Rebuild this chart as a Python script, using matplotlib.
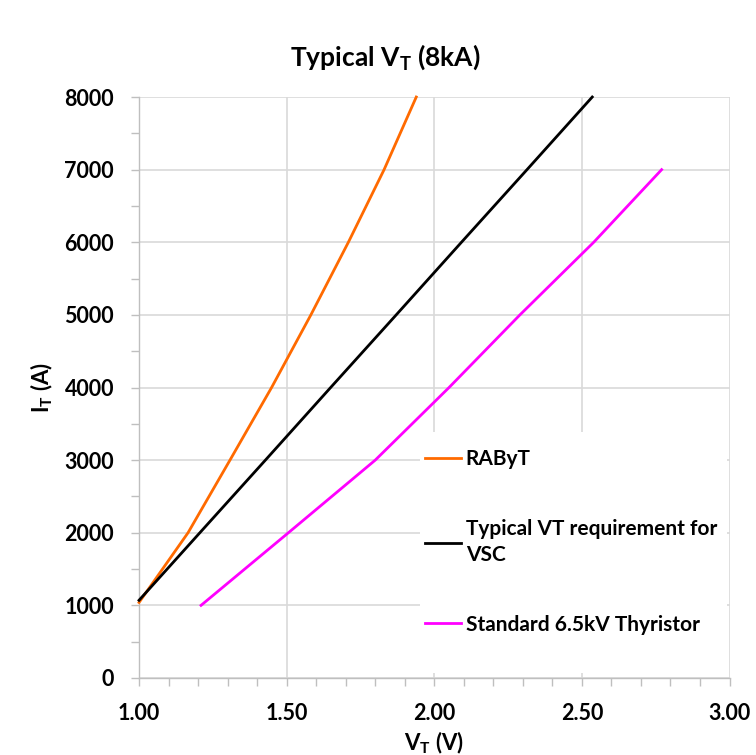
import matplotlib
matplotlib.use('Agg')
import matplotlib.pyplot as plt
from matplotlib.ticker import MultipleLocator, FormatStrFormatter
from matplotlib.patches import Rectangle

# ---- data ----
rabyt_v = [1.00, 1.166, 1.308, 1.449, 1.582, 1.709, 1.830, 1.939]
rabyt_i = [1040, 2000, 3000, 4000, 5000, 6000, 7000, 8000]
req_v = [1.00, 1.206, 1.428, 1.649, 1.871, 2.092, 2.314, 2.535]
req_i = [1070, 2000, 3000, 4000, 5000, 6000, 7000, 8000]
std_v = [1.21, 1.50, 1.80, 2.05, 2.29, 2.54, 2.77]
std_i = [1000, 1980, 3000, 4000, 5000, 6000, 7000]
labels = ["RAByT", "Typical VT requirement for\nVSC", "Standard 6.5kV Thyristor"]
colors = ["#FF6A00", "#000000", "#FF00FF"]

plt.rcParams['font.family'] = ['Lato', 'DejaVu Sans']
plt.rcParams['font.weight'] = 'bold'
plt.rcParams['mathtext.fontset'] = 'custom'
plt.rcParams['mathtext.rm'] = 'Lato:bold'
plt.rcParams['mathtext.bf'] = 'Lato:bold'

fig = plt.figure(figsize=(7.56, 7.55), dpi=100)
ax = fig.add_axes([0.1839, 0.102, 0.7811, 0.7695])

grid_c = '#D9D9D9'
ax.plot(rabyt_v, rabyt_i, color=colors[0], lw=2, label=labels[0], zorder=3, clip_on=False)
ax.plot(req_v, req_i, color=colors[1], lw=2, label=labels[1], zorder=3, clip_on=False)
ax.plot(std_v, std_i, color=colors[2], lw=2, label=labels[2], zorder=3, clip_on=False)

ax.set_xlim(1.0, 3.0)
ax.set_ylim(0, 8000)
ax.xaxis.set_major_locator(MultipleLocator(0.5))
ax.xaxis.set_minor_locator(MultipleLocator(0.1))
ax.yaxis.set_major_locator(MultipleLocator(1000))
ax.yaxis.set_minor_locator(MultipleLocator(500))
ax.xaxis.set_major_formatter(FormatStrFormatter('%.2f'))

ax.set_axisbelow(True)
ax.grid(True, which='major', color=grid_c, lw=1.2)
for s in ['top', 'right']:
    ax.spines[s].set_visible(False)
for s in ['left', 'bottom']:
    ax.spines[s].set_color('#BFBFBF')
    ax.spines[s].set_linewidth(1.0)

ax.tick_params(axis='both', which='both', color='#BFBFBF', length=6, width=1, direction='out')
ax.tick_params(axis='y', which='major', pad=12, labelsize=15.5)
ax.tick_params(axis='x', which='major', pad=12, labelsize=15.5)

# white legend background
ax.add_patch(Rectangle((0.476, 0.0086), 0.5198, 0.4148, transform=ax.transAxes,
                       facecolor='white', edgecolor='none', zorder=1))

leg = ax.legend(loc='upper left', bbox_to_anchor=(0.4843, 0.394), frameon=False,
                borderpad=0, borderaxespad=0, handlelength=1.75, handletextpad=0.2,
                labelspacing=2.4, prop={'weight': 'bold', 'size': 15})
for t in leg.get_texts():
    t.set_linespacing(1.35)

fig.text(0.509, 0.924, r'Typical $\mathrm{V_T}$ (8kA)', ha='center', va='center',
         fontsize=19, fontweight='bold')
ax.set_ylabel(r'$\mathrm{I_T}$ (A)', fontsize=16, fontweight='bold', labelpad=7)
ax.set_xlabel(r'$\mathrm{V_T}$ (V)', fontsize=16, fontweight='bold', labelpad=4)

fig.savefig('out.png', dpi=100, facecolor='white')
